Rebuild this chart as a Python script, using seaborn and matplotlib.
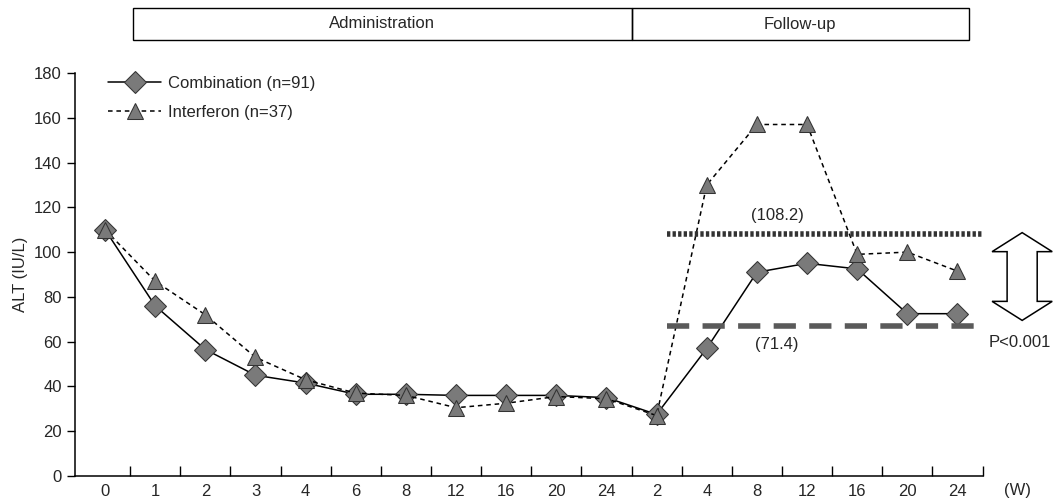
import matplotlib.pyplot as plt
import matplotlib.transforms as mtransforms
from matplotlib.patches import Rectangle, Polygon
import numpy as np
import pandas as pd
import seaborn as sns

OUT_PATH = "out.png"

# x categories: weeks of administration, then weeks of follow-up
week_labels = ["0", "1", "2", "3", "4", "6", "8", "12", "16", "20", "24",
               "2", "4", "8", "12", "16", "20", "24"]
combination = [110, 76, 56.5, 45, 41.5, 36.5, 36.5, 36, 36, 36, 35,
               27.5, 57, 91, 95, 92.5, 72.5, 72.5]
interferon = [110, 87, 72, 53, 43, 37, 36, 30.5, 32.5, 35.5, 34.5,
              27, 130, 157, 157, 99, 100, 91.5]
series_names = ["Combination (n=91)", "Interferon (n=37)"]
followup_mean_interferon = 108.2
followup_mean_combination = 71.4
followup_line_combination = 67   # where the dashed line is actually drawn

FS = 12

sns.set_theme(style="ticks")
plt.rcParams["font.family"] = ["Liberation Sans", "DejaVu Sans"]

pos = np.arange(len(week_labels))
df = pd.DataFrame({
    "pos": np.concatenate([pos, pos]),
    "ALT": combination + interferon,
    "group": [series_names[0]] * len(pos) + [series_names[1]] * len(pos),
})

fig = plt.figure(figsize=(10.59, 5.0), dpi=100)
ax = fig.add_axes([0.0708, 0.048, 0.857, 0.806])

sns.lineplot(data=df[df.group == series_names[0]], x="pos", y="ALT", ax=ax,
             color="black", lw=1.1, marker="D", markersize=11,
             markerfacecolor="#7a7a7a", markeredgecolor="#333333",
             label=series_names[0])
sns.lineplot(data=df[df.group == series_names[1]], x="pos", y="ALT", ax=ax,
             color="black", lw=1.1, linestyle=(0, (3, 2.5)), marker="^", markersize=12,
             markerfacecolor="#7a7a7a", markeredgecolor="#333333",
             label=series_names[1])

# follow-up mean lines
ax.hlines(followup_mean_interferon, 11.2, 17.5, colors="#333333", lw=4,
          linestyles=(0, (0.6, 0.4)))
ax.hlines(followup_line_combination, 11.2, 17.5, colors="#5a5a5a", lw=4,
          linestyles=(0, (4, 2.4)))
ax.text(13.4, followup_mean_interferon + 5, f"({followup_mean_interferon})",
        ha="center", va="bottom", fontsize=FS)
ax.text(13.4, followup_line_combination - 5, f"({followup_mean_combination})",
        ha="center", va="top", fontsize=FS)

# hollow block double arrow + p value
ax_c, head_w, shaft_w = 18.29, 0.6, 0.3
y_top, y_head1, y_head2, y_bot = 108.7, 100.2, 78, 69.5
arrow_pts = [(ax_c, y_top), (ax_c + head_w, y_head1), (ax_c + shaft_w, y_head1),
             (ax_c + shaft_w, y_head2), (ax_c + head_w, y_head2), (ax_c, y_bot),
             (ax_c - head_w, y_head2), (ax_c - shaft_w, y_head2),
             (ax_c - shaft_w, y_head1), (ax_c - head_w, y_head1)]
ax.add_patch(Polygon(arrow_pts, closed=True, fc="white", ec="black", lw=1.1,
                     clip_on=False))
ax.text(18.25, 59.7, "P<0.001", ha="center", va="center", fontsize=FS, clip_on=False)

ax.set_xlim(-0.6, 17.5)
ax.set_ylim(0, 180)
ax.set_yticks(range(0, 181, 20))
ax.set_xticks(pos)
ax.set_xticklabels(week_labels, fontsize=FS)
ax.set_xticks(np.arange(0.5, 18, 1), minor=True)
ax.tick_params(axis="x", which="major", length=0, pad=6)
ax.tick_params(axis="x", which="minor", direction="in", length=7, width=1, color="black")
ax.tick_params(axis="y", labelsize=FS, length=6, width=1, color="black")
ax.set_xlabel("")
ax.set_ylabel("ALT (IU/L)", fontsize=FS)
for side in ["top", "right"]:
    ax.spines[side].set_visible(False)
for side in ["left", "bottom"]:
    ax.spines[side].set_linewidth(1.1)
    ax.spines[side].set_color("black")

ax.text(18.2, -6.5, "(W)", ha="center", va="center", fontsize=FS, clip_on=False)

ax.legend(loc="upper left", bbox_to_anchor=(0.02, 1.03), frameon=False, fontsize=FS,
          handlelength=3.2, handletextpad=0.4, labelspacing=0.85)

# header box over the axis
trans = mtransforms.blended_transform_factory(ax.transData, fig.transFigure)
box_bottom, box_top = 1 - 40 / 500, 1 - 8 / 500
ax.add_patch(Rectangle((0.56, box_bottom), 10.5 - 0.56, box_top - box_bottom,
                       transform=trans, fill=False, lw=1, ec="black", clip_on=False))
ax.add_patch(Rectangle((10.5, box_bottom), 17.22 - 10.5, box_top - box_bottom,
                       transform=trans, fill=False, lw=1, ec="black", clip_on=False))
ax.text((0.56 + 10.5) / 2, (box_bottom + box_top) / 2, "Administration",
        transform=trans, ha="center", va="center", fontsize=FS)
ax.text((10.5 + 17.22) / 2, (box_bottom + box_top) / 2, "Follow-up",
        transform=trans, ha="center", va="center", fontsize=FS)

plt.savefig(OUT_PATH, dpi=100)
